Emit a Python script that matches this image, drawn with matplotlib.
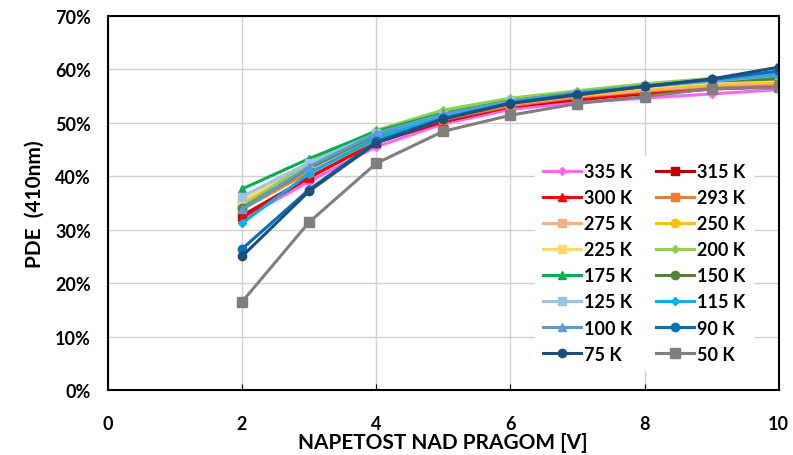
import numpy as np
import matplotlib
matplotlib.use("Agg")
import matplotlib.pyplot as plt
from matplotlib.ticker import PercentFormatter

plt.rcParams['font.family'] = ['Lato', 'DejaVu Sans']
plt.rcParams['font.weight'] = 'bold'

# prenapetost nad pragom [V]
napetost = [2, 3, 4, 5, 6, 7, 8, 9, 10]

# PDE pri 410 nm [%] za posamezne temperature
temperature = ["335 K", "315 K", "300 K", "293 K", "275 K", "250 K", "225 K", "200 K",
               "175 K", "150 K", "125 K", "115 K", "100 K", "90 K", "75 K", "50 K"]
pde_335 = [32.0, 39.0, 45.5, 49.8, 52.5, 53.8, 54.6, 55.4, 56.2]
pde_315 = [32.6, 39.8, 46.3, 50.2, 53.0, 54.3, 55.4, 56.3, 56.8]
pde_300 = [32.3, 39.7, 46.5, 50.4, 53.1, 54.5, 55.6, 56.5, 57.0]
pde_293 = [33.8, 40.8, 46.8, 50.6, 53.2, 54.8, 55.9, 56.8, 57.2]
pde_275 = [34.6, 41.3, 47.2, 51.0, 53.5, 55.0, 56.1, 57.0, 57.5]
pde_250 = [35.2, 41.7, 47.5, 51.3, 53.7, 55.2, 56.4, 57.3, 57.8]
pde_225 = [35.5, 42.0, 47.7, 51.5, 53.9, 55.4, 56.6, 57.5, 58.0]
pde_200 = [34.3, 42.6, 48.6, 52.4, 54.6, 56.0, 57.3, 58.3, 58.6]
pde_175 = [37.6, 43.3, 48.4, 51.8, 54.1, 55.6, 56.9, 57.9, 58.4]
pde_150 = [34.0, 41.5, 47.8, 51.5, 54.0, 55.5, 56.8, 57.8, 58.2]
pde_125 = [36.2, 42.5, 48.0, 51.5, 54.0, 55.5, 56.8, 57.8, 58.9]
pde_115 = [31.2, 40.5, 47.2, 51.0, 53.8, 55.4, 56.8, 57.9, 59.0]
pde_100 = [33.8, 41.8, 48.0, 51.6, 54.0, 55.6, 56.9, 58.0, 59.2]
pde_90 = [26.4, 37.5, 46.5, 50.8, 53.7, 55.4, 56.8, 58.1, 59.7]
pde_75 = [25.0, 37.2, 46.2, 50.7, 53.6, 55.2, 56.8, 58.2, 60.4]
pde_50 = [16.5, 31.4, 42.4, 48.4, 51.4, 53.6, 54.9, 56.4, 56.6]

serije = [pde_335, pde_315, pde_300, pde_293, pde_275, pde_250, pde_225, pde_200,
          pde_175, pde_150, pde_125, pde_115, pde_100, pde_90, pde_75, pde_50]
barve = ["#FF66F0", "#C00000", "#FF0000", "#ED7D31", "#F4B183", "#FFC000", "#FFD966", "#92D050",
         "#00B050", "#548235", "#9DC3E6", "#00B0F0", "#5B9BD5", "#0070C0", "#1F4E79", "#7F7F7F"]
markerji = ["D", "s", "^", "s", "s", "o", "s", "D",
            "^", "o", "s", "D", "^", "o", "o", "s"]
velikosti = [4, 6, 6, 6, 6, 6, 6, 4, 6, 6, 6, 4, 6, 6, 6, 7]

fig = plt.figure(figsize=(7.93, 4.56), dpi=100)
ax = fig.add_axes([0.136, 0.1425, 0.846, 0.8205])

for y, c, m, ms, lab in zip(serije, barve, markerji, velikosti, temperature):
    ax.plot(napetost, y, color=c, marker=m, markersize=ms, linewidth=2.2, label=lab)

ax.set_xlim(0, 10)
ax.set_ylim(0, 70)
ax.set_xticks(range(0, 11, 2))
ax.set_yticks(range(0, 71, 10))
ax.yaxis.set_major_formatter(PercentFormatter(decimals=0))
ax.grid(True, color="#D0D0D0", linewidth=1)
ax.set_axisbelow(True)
ax.tick_params(axis='x', direction='in', length=4, pad=18, labelsize=13)
ax.tick_params(axis='y', direction='in', length=0, pad=12, labelsize=13)
for s in ax.spines.values():
    s.set_color("black")
    s.set_linewidth(1.5)

ax.set_xlabel("NAPETOST NAD PRAGOM [V]", fontsize=15, fontweight='bold', labelpad=0)
ax.set_ylabel("PDE  (410nm)", fontsize=15, fontweight='bold', labelpad=8)

# legenda po vrsticah: levi stolpec sode, desni lihe serije
h, l = ax.get_legend_handles_labels()
red = list(range(0, 16, 2)) + list(range(1, 16, 2))
leg = ax.legend([h[i] for i in red], [l[i] for i in red], ncol=2, loc='lower right',
                bbox_to_anchor=(0.975, 0.03), frameon=True,
                framealpha=1, edgecolor='white', fontsize=13, handlelength=2.1,
                handletextpad=0.2, columnspacing=1.3, labelspacing=0.5, borderpad=0.4)
for t in leg.get_texts():
    t.set_fontweight('bold')

fig.savefig("out.png", dpi=100)
